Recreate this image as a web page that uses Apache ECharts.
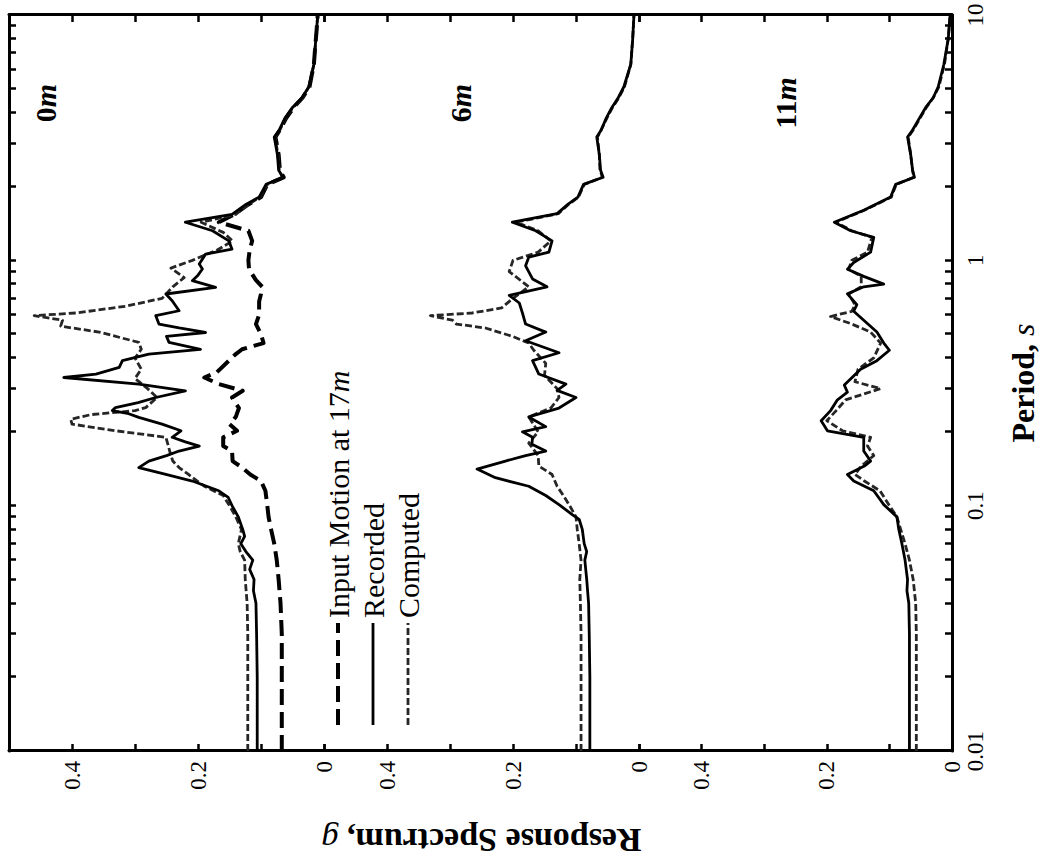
<!DOCTYPE html>
<html>
<head>
<meta charset="utf-8">
<script src="https://cdn.jsdelivr.net/npm/echarts@6/dist/echarts.min.js"></script>
<style>
  html, body { margin: 0; padding: 0; background: #fff; width: 1040px; height: 867px; overflow: hidden; }
  /* the figure is laid out upright and then turned a quarter turn counter-clockwise */
  #turn { position: absolute; left: 0; top: 0; width: 867px; height: 1040px;
          transform-origin: 0 0; transform: translate(0, 867px) rotate(-90deg); }
  #chart { width: 867px; height: 1040px; }
</style>
</head>
<body>
<div id="turn"><div id="chart"></div></div>
<script>
// Response spectra, [period (s), spectral acceleration (g)]
const recorded0 = [[0.01,0.106],[0.02,0.106],[0.03,0.107],[0.04,0.108],[0.045,0.112],[0.05,0.111],[0.055,0.118],[0.06,0.113],[0.065,0.124],[0.07,0.132],[0.075,0.126],[0.08,0.129],[0.09,0.136],[0.1,0.146],[0.108,0.152],[0.115,0.167],[0.126,0.209],[0.134,0.251],[0.143,0.294],[0.152,0.278],[0.16,0.25],[0.167,0.23],[0.175,0.198],[0.182,0.22],[0.19,0.241],[0.202,0.227],[0.215,0.257],[0.229,0.294],[0.237,0.31],[0.244,0.336],[0.251,0.331],[0.263,0.295],[0.276,0.267],[0.294,0.22],[0.313,0.294],[0.333,0.413],[0.344,0.362],[0.366,0.325],[0.39,0.32],[0.415,0.278],[0.434,0.196],[0.463,0.246],[0.49,0.25],[0.508,0.188],[0.53,0.23],[0.55,0.262],[0.595,0.267],[0.623,0.23],[0.684,0.241],[0.729,0.251],[0.776,0.172],[0.826,0.209],[0.87,0.2],[0.922,0.193],[0.966,0.198],[1.06,0.188],[1.11,0.146],[1.2,0.151],[1.32,0.177],[1.43,0.22],[1.54,0.146],[1.69,0.124],[1.81,0.103],[2.04,0.092],[2.18,0.065],[2.33,0.072],[2.7,0.074],[3.18,0.079],[3.4,0.071],[3.8,0.062],[4.2,0.05],[4.6,0.035],[5.1,0.024],[6.3,0.016],[7.4,0.014],[8.5,0.012],[10,0.01]];
const computed0 = [[0.01,0.121],[0.02,0.121],[0.03,0.121],[0.04,0.122],[0.05,0.125],[0.06,0.126],[0.065,0.133],[0.07,0.136],[0.08,0.131],[0.09,0.14],[0.1,0.15],[0.11,0.16],[0.12,0.19],[0.134,0.215],[0.143,0.23],[0.152,0.24],[0.167,0.245],[0.175,0.247],[0.19,0.251],[0.202,0.331],[0.215,0.4],[0.225,0.402],[0.235,0.37],[0.244,0.3],[0.251,0.283],[0.276,0.265],[0.3,0.28],[0.33,0.3],[0.36,0.29],[0.4,0.3],[0.434,0.29],[0.463,0.294],[0.51,0.357],[0.539,0.418],[0.57,0.415],[0.595,0.46],[0.61,0.394],[0.65,0.315],[0.7,0.257],[0.78,0.24],[0.85,0.222],[0.93,0.243],[1.0,0.209],[1.1,0.17],[1.2,0.145],[1.3,0.16],[1.43,0.195],[1.54,0.14],[1.69,0.12],[1.81,0.102],[2.04,0.09],[2.18,0.066],[2.33,0.071],[2.7,0.073],[3.18,0.078],[3.4,0.07],[3.8,0.061],[4.2,0.049],[4.6,0.034],[5.1,0.024],[6.3,0.016],[7.4,0.014],[8.5,0.012],[10,0.01]];
const input17 = [[0.01,0.067],[0.02,0.067],[0.03,0.067],[0.04,0.069],[0.05,0.072],[0.06,0.075],[0.07,0.079],[0.08,0.084],[0.09,0.088],[0.1,0.09],[0.115,0.093],[0.126,0.1],[0.134,0.117],[0.143,0.13],[0.152,0.145],[0.167,0.146],[0.175,0.16],[0.19,0.16],[0.202,0.138],[0.215,0.15],[0.23,0.14],[0.25,0.135],[0.276,0.146],[0.294,0.129],[0.313,0.167],[0.333,0.19],[0.35,0.17],[0.39,0.151],[0.415,0.14],[0.434,0.13],[0.46,0.096],[0.5,0.1],[0.55,0.108],[0.6,0.103],[0.68,0.103],[0.73,0.1],[0.78,0.098],[0.83,0.108],[0.92,0.119],[1.0,0.12],[1.1,0.118],[1.2,0.114],[1.32,0.12],[1.43,0.167],[1.54,0.142],[1.69,0.12],[1.81,0.1],[2.04,0.09],[2.18,0.064],[2.33,0.07],[2.7,0.072],[3.18,0.077],[3.4,0.07],[3.8,0.06],[4.2,0.048],[4.6,0.034],[5.1,0.023],[6.3,0.016],[7.4,0.014],[8.5,0.012],[10,0.01]];
const recorded6 = [[0.01,0.078],[0.02,0.078],[0.03,0.079],[0.04,0.08],[0.05,0.083],[0.06,0.086],[0.065,0.083],[0.07,0.087],[0.08,0.09],[0.088,0.095],[0.092,0.106],[0.101,0.127],[0.11,0.148],[0.12,0.175],[0.13,0.228],[0.141,0.257],[0.152,0.212],[0.16,0.18],[0.167,0.148],[0.178,0.17],[0.19,0.169],[0.2,0.185],[0.21,0.148],[0.23,0.175],[0.25,0.127],[0.276,0.1],[0.295,0.13],[0.313,0.116],[0.344,0.159],[0.39,0.169],[0.42,0.127],[0.47,0.18],[0.51,0.148],[0.55,0.18],[0.61,0.185],[0.67,0.19],[0.72,0.206],[0.78,0.146],[0.84,0.169],[0.95,0.18],[1.03,0.175],[1.08,0.143],[1.2,0.138],[1.32,0.164],[1.43,0.201],[1.55,0.13],[1.69,0.113],[1.81,0.097],[2.04,0.088],[2.18,0.057],[2.33,0.061],[2.7,0.063],[3.18,0.067],[3.4,0.06],[3.8,0.052],[4.2,0.043],[4.6,0.033],[5.1,0.024],[6.3,0.013],[8,0.01],[10,0.008]];
const computed6 = [[0.01,0.092],[0.02,0.092],[0.03,0.092],[0.04,0.093],[0.05,0.094],[0.06,0.092],[0.07,0.095],[0.08,0.098],[0.09,0.1],[0.1,0.11],[0.11,0.12],[0.12,0.13],[0.134,0.138],[0.145,0.159],[0.16,0.16],[0.18,0.175],[0.2,0.16],[0.23,0.175],[0.25,0.14],[0.276,0.127],[0.3,0.13],[0.34,0.15],[0.38,0.148],[0.43,0.167],[0.46,0.175],[0.49,0.201],[0.53,0.244],[0.55,0.29],[0.57,0.296],[0.595,0.331],[0.61,0.265],[0.64,0.218],[0.7,0.2],[0.78,0.175],[0.9,0.206],[1.0,0.2],[1.08,0.16],[1.2,0.14],[1.32,0.16],[1.43,0.195],[1.55,0.128],[1.69,0.112],[1.81,0.096],[2.04,0.087],[2.18,0.058],[2.33,0.062],[2.7,0.063],[3.18,0.066],[3.4,0.06],[3.8,0.051],[4.2,0.042],[4.6,0.032],[5.1,0.023],[6.3,0.013],[8,0.01],[10,0.008]];
const recorded11 = [[0.01,0.068],[0.02,0.068],[0.03,0.068],[0.04,0.069],[0.045,0.072],[0.05,0.071],[0.06,0.075],[0.07,0.08],[0.08,0.085],[0.09,0.088],[0.101,0.109],[0.115,0.125],[0.126,0.157],[0.134,0.167],[0.145,0.14],[0.152,0.13],[0.167,0.141],[0.19,0.141],[0.202,0.199],[0.222,0.209],[0.244,0.194],[0.27,0.183],[0.29,0.167],[0.31,0.172],[0.36,0.146],[0.39,0.12],[0.43,0.1],[0.46,0.109],[0.51,0.12],[0.57,0.141],[0.62,0.157],[0.66,0.152],[0.73,0.167],[0.78,0.141],[0.8,0.109],[0.86,0.141],[0.92,0.167],[0.98,0.157],[1.08,0.13],[1.24,0.125],[1.32,0.162],[1.43,0.188],[1.6,0.141],[1.81,0.098],[2.04,0.09],[2.18,0.06],[2.33,0.063],[2.7,0.066],[3.18,0.071],[3.4,0.063],[3.8,0.052],[4.2,0.042],[4.6,0.03],[5.1,0.022],[6.3,0.013],[8,0.006],[10,0.003]];
const computed11 = [[0.01,0.057],[0.02,0.057],[0.03,0.057],[0.04,0.058],[0.05,0.062],[0.06,0.068],[0.07,0.075],[0.08,0.082],[0.09,0.088],[0.1,0.1],[0.115,0.115],[0.126,0.14],[0.134,0.155],[0.145,0.145],[0.16,0.125],[0.175,0.135],[0.19,0.13],[0.202,0.175],[0.222,0.2],[0.244,0.185],[0.27,0.17],[0.3,0.114],[0.32,0.155],[0.36,0.15],[0.4,0.125],[0.46,0.114],[0.51,0.13],[0.55,0.16],[0.59,0.194],[0.62,0.16],[0.66,0.155],[0.73,0.165],[0.78,0.145],[0.86,0.145],[0.92,0.165],[1.0,0.16],[1.08,0.135],[1.24,0.128],[1.32,0.16],[1.43,0.186],[1.6,0.14],[1.81,0.097],[2.04,0.089],[2.18,0.061],[2.33,0.063],[2.7,0.066],[3.18,0.07],[3.4,0.062],[3.8,0.051],[4.2,0.041],[4.6,0.03],[5.1,0.021],[6.3,0.012],[8,0.006],[10,0.003]];

// Panel depths and axis ticks
const depths = ['0', '6', '11'];
const periodTicks = [0.01,0.02,0.03,0.04,0.05,0.06,0.07,0.08,0.09,0.1,0.2,0.3,0.4,0.5,0.6,0.7,0.8,0.9,1,2,3,4,5,6,7,8,9,10];
const periodLabels = [0.01, 0.1, 1, 10];
const periodLabelText = ['0.01', '0.1', '1', '10'];
const responseLabels = ['0', '0.2', '0.4'];

const SERIF = '"Liberation Serif", "Times New Roman", serif';
const INPUT = 'Input Motion at 17m', REC = 'Recorded', COMP = 'Computed';

const styleOf = {
  [INPUT]: { color: '#000', width: 4, type: [16, 7] },
  [REC]:   { color: '#000', width: 2.8, type: 'solid' },
  [COMP]:  { color: '#262626', width: 2.8, type: [7, 3] }
};

const panelSeries = [
  [[INPUT, input17], [COMP, computed0], [REC, recorded0]],
  [[COMP, computed6], [REC, recorded6]],
  [[COMP, computed11], [REC, recorded11]]
];

const gridTops = [9, 324, 639];
const grids = gridTops.map(t => ({ left: 116, right: 15, top: t, height: 315 }));

const frameLine = { show: true, onZero: false, lineStyle: { color: '#000', width: 3 } };
const inTicks = { show: true, inside: true, length: 7, lineStyle: { color: '#000', width: 2.5 } };

function periodAxis(i) {
  const base = {
    type: 'log', logBase: 10, gridIndex: i, min: 0.01, max: 10,
    splitLine: { show: false }, minorTick: { show: false }
  };
  if (i === 0) {
    return Object.assign(base, {
      position: 'top', axisLine: frameLine,
      axisTick: Object.assign({ customValues: periodTicks }, inTicks),
      axisLabel: { show: false }
    });
  }
  if (i === 2) {
    return Object.assign(base, {
      position: 'bottom', axisLine: frameLine,
      axisTick: Object.assign({ customValues: periodTicks }, inTicks),
      axisLabel: {
        customValues: periodLabels, margin: 12, color: '#000', fontSize: 23, fontFamily: SERIF,
        formatter: v => periodLabelText[Math.round(Math.log10(v)) + 2]
      },
      name: '{b|Period, }{i|s}', nameLocation: 'middle', nameGap: 55,
      nameTextStyle: { rich: {
        b: { fontWeight: 'bold', fontSize: 32, fontFamily: SERIF, color: '#000' },
        i: { fontStyle: 'italic', fontSize: 32, fontFamily: SERIF, color: '#000' }
      } }
    });
  }
  return Object.assign(base, { show: false, axisLine: { show: false, onZero: false } });
}

function responseAxis(i, side) {
  const ax = {
    type: 'value', gridIndex: i, position: side, min: 0, max: 0.5, interval: 0.1,
    axisLine: frameLine, axisTick: inTicks, splitLine: { show: false },
    axisLabel: { show: false }
  };
  if (side === 'left') {
    ax.axisLabel = {
      show: true, margin: 10, color: '#000', fontSize: 23, fontFamily: SERIF,
      formatter: v => { const k = Math.round(v * 10); return k % 2 === 0 && k < 5 ? responseLabels[k / 2] : ''; }
    };
    if (i === 1) {
      ax.name = '{b|Response Spectrum, }{i|g}';
      ax.nameLocation = 'middle';
      ax.nameGap = 72;
      ax.nameTextStyle = { rich: {
        b: { fontWeight: 'bold', fontSize: 34, fontFamily: SERIF, color: '#000' },
        i: { fontStyle: 'italic', fontSize: 34, fontFamily: SERIF, color: '#000' }
      } };
    }
  }
  return ax;
}

const series = [];
panelSeries.forEach((list, i) => {
  list.forEach(([name, data]) => {
    const s = styleOf[name];
    series.push({
      name, type: 'line', xAxisIndex: i, yAxisIndex: i, data,
      symbol: 'none', showSymbol: false, smooth: false, animation: false,
      lineStyle: { color: s.color, width: s.width, type: s.type, join: 'round' },
      itemStyle: { color: s.color },
      z: name === REC ? 4 : 3
    });
  });
});

const depthLabels = depths.map((d, i) => ({
  type: 'text', x: 764, y: [45, 460, 785][i],
  style: {
    text: '{n|' + d + '}{m|m}', align: 'center', verticalAlign: 'middle',
    rich: {
      n: { fontWeight: 'bold', fontSize: 30, fontFamily: SERIF, fill: '#000' },
      m: { fontWeight: 'bold', fontStyle: 'italic', fontSize: 30, fontFamily: SERIF, fill: '#000' }
    }
  }
}));

const chart = echarts.init(document.getElementById('chart'), null, { renderer: 'svg', width: 867, height: 1040 });
chart.setOption({
  backgroundColor: '#fff',
  animation: false,
  grid: grids,
  xAxis: [0, 1, 2].map(periodAxis),
  yAxis: [0, 1, 2].map(i => responseAxis(i, 'left')).concat([0, 1, 2].map(i => responseAxis(i, 'right'))),
  legend: {
    orient: 'vertical', left: 135, top: 318, itemWidth: 102, itemHeight: 10, itemGap: 5,
    selectedMode: false,
    itemStyle: { opacity: 0 },
    data: [INPUT, REC, COMP].map(n => ({ name: n, lineStyle: { width: styleOf[n].width } })),
    textStyle: { color: '#000', fontSize: 30, fontFamily: SERIF,
      rich: { i: { fontStyle: 'italic', fontSize: 30, fontFamily: SERIF, color: '#000' } } },
    formatter: n => n === INPUT ? 'Input Motion at 17{i|m}' : n
  },
  graphic: depthLabels,
  series
});
</script>
</body>
</html>
